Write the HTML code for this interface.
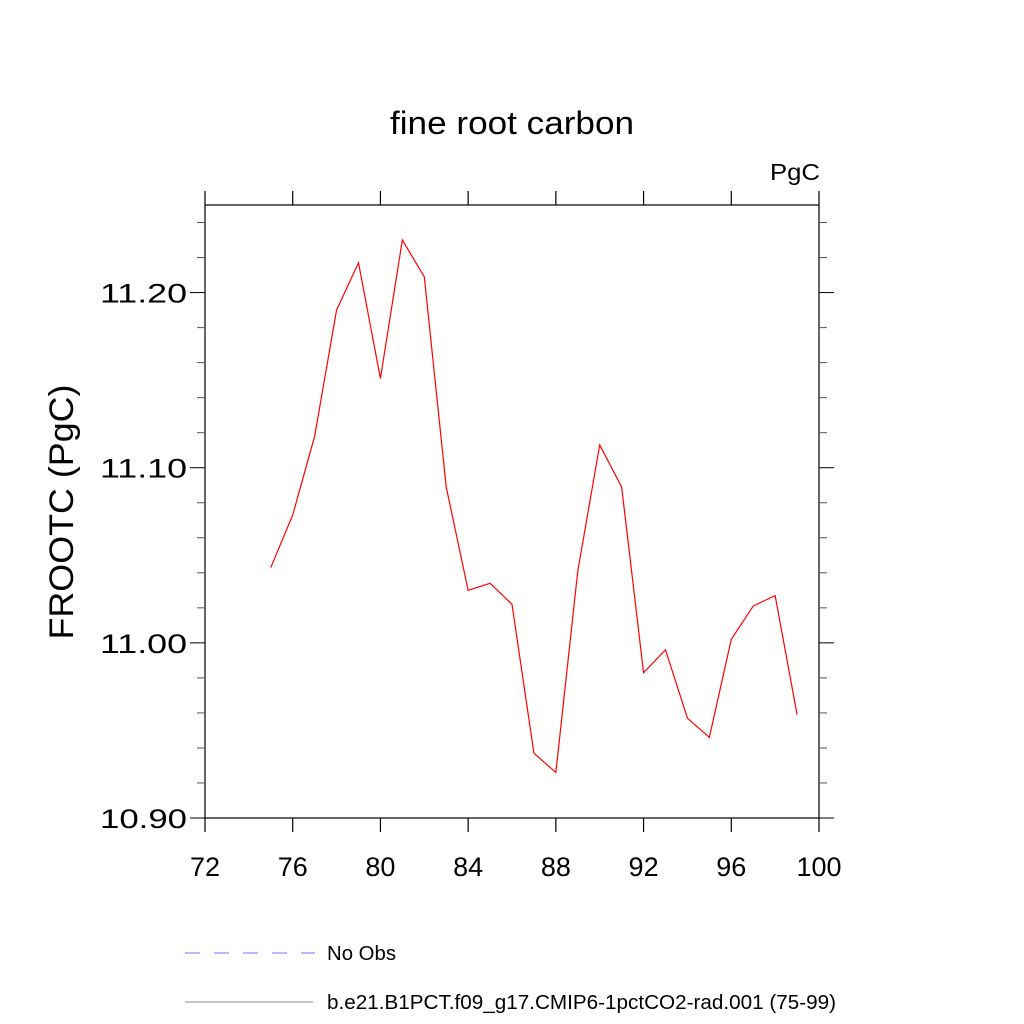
<!DOCTYPE html>
<html><head><meta charset="utf-8"><style>body{margin:0;background:#fff}svg{display:block}text{font-family:"Liberation Sans",sans-serif}</style></head>
<body>
<svg id="chart" width="1024" height="1024">
<text x="512" y="134" font-size="32" text-anchor="middle" textLength="244" lengthAdjust="spacingAndGlyphs">fine root carbon</text>
<text x="820" y="180" font-size="23" text-anchor="end" textLength="50" lengthAdjust="spacingAndGlyphs">PgC</text>
<text transform="translate(73,512) rotate(-90)" font-size="34" text-anchor="middle" textLength="255" lengthAdjust="spacingAndGlyphs">FROOTC  (PgC)</text>
<g id="axes"></g>
<g id="series"></g>
<g>
<line x1="185" y1="953" x2="315" y2="953" stroke="#7070ff" stroke-dasharray="15,14"/>
<text x="327" y="960" font-size="20" textLength="69" lengthAdjust="spacingAndGlyphs">No Obs</text>
<line x1="185" y1="1002" x2="313" y2="1002" stroke="#888"/>
<text x="327" y="1009" font-size="20" textLength="509" lengthAdjust="spacingAndGlyphs">b.e21.B1PCT.f09_g17.CMIP6-1pctCO2-rad.001 (75-99)</text>
</g>
</svg>
<script>
const years=[75,76,77,78,79,80,81,82,83,84,85,86,87,88,89,90,91,92,93,94,95,96,97,98,99];
const values=[11.043,11.073,11.118,11.190,11.217,11.151,11.230,11.209,11.089,11.030,11.034,11.022,10.937,10.926,11.041,11.113,11.089,10.983,10.996,10.957,10.946,11.002,11.021,11.027,10.959];
const xTicks=[72,76,80,84,88,92,96,100];
const yTicks=[10.90,11.00,11.10,11.20];
const NS="http://www.w3.org/2000/svg";
const L=205,R=819,T=205,B=818;
const xs=v=>L+(v-72)/(100-72)*(R-L);
const ys=v=>B-(v-10.9)/(11.25-10.9)*(B-T);
const ax=document.getElementById('axes');
function ln(p,x1,y1,x2,y2,w,c){const e=document.createElementNS(NS,'line');e.setAttribute('x1',x1);e.setAttribute('y1',y1);e.setAttribute('x2',x2);e.setAttribute('y2',y2);e.setAttribute('stroke',c||'#000');e.setAttribute('stroke-width',w||1.2);p.appendChild(e);return e;}
const fr=document.createElementNS(NS,'rect');
fr.setAttribute('x',L);fr.setAttribute('y',T);fr.setAttribute('width',R-L);fr.setAttribute('height',B-T);fr.setAttribute('fill','none');fr.setAttribute('stroke','#000');fr.setAttribute('stroke-width',1.2);


ax.appendChild(fr);
xTicks.forEach(v=>{const x=xs(v);
const a=ln(ax,x,B,x,B+14);
const b=ln(ax,x,T,x,T-14);
const t=document.createElementNS(NS,'text');t.setAttribute('x',x);t.setAttribute('y',B+58);t.setAttribute('font-size',27);t.setAttribute('text-anchor','middle');t.textContent=v;


ax.appendChild(t);});
for(let i=0;i<=17;i++){const v=10.9+i*0.02;const y=ys(v);const major=Math.abs(((v-10.9)/0.1)-Math.round((v-10.9)/0.1))<1e-6;const len=major?15:8;
const a=ln(ax,L,y,L-len,y,1,major?'#000':'#555');
const b=ln(ax,R,y,R+len,y,1,major?'#000':'#555');}
yTicks.forEach(v=>{const t=document.createElementNS(NS,'text');t.setAttribute('x',L-18);t.setAttribute('y',ys(v)+10);t.setAttribute('font-size',27);t.setAttribute('text-anchor','end');t.setAttribute('textLength',87);t.setAttribute('lengthAdjust','spacingAndGlyphs');t.textContent=v.toFixed(2);


ax.appendChild(t);});
const p=document.createElementNS(NS,'polyline');
p.setAttribute('points',years.map((y,i)=>xs(y)+','+ys(values[i])).join(' '));
p.setAttribute('fill','none');p.setAttribute('stroke','#ff0000');p.setAttribute('stroke-width',1.2);


document.getElementById('series').appendChild(p);
</script>
</body></html>
